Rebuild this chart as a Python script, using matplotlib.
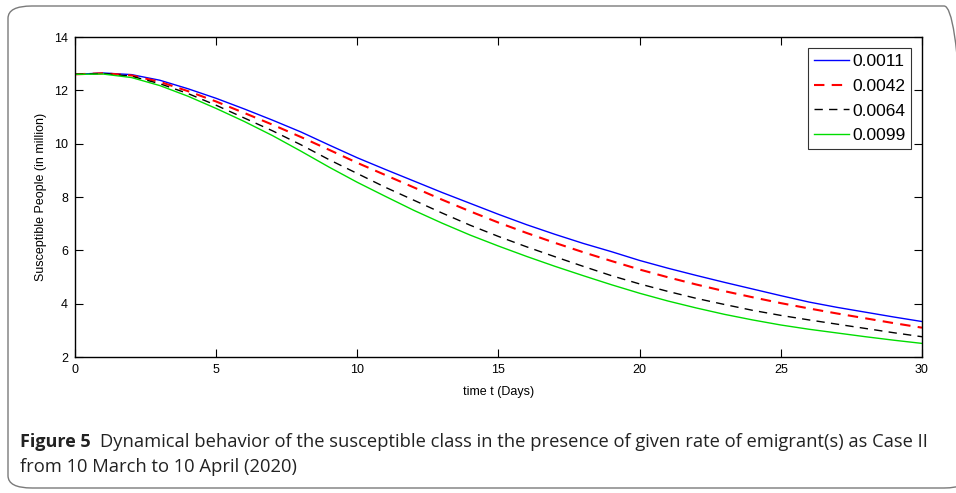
import matplotlib
matplotlib.use("Agg")
from matplotlib import pyplot as plt
from matplotlib.patches import FancyBboxPatch

plt.rcParams['font.family'] = ['Liberation Sans', 'DejaVu Sans']

# days and susceptible population (in million)
days = list(range(0, 31))
s_0011 = [12.60, 12.65, 12.59, 12.38, 12.06, 11.70, 11.30, 10.88, 10.44, 9.95, 9.47,
          9.03, 8.60, 8.17, 7.76, 7.35, 6.96, 6.60, 6.26, 5.95, 5.62,
          5.33, 5.06, 4.80, 4.55, 4.30, 4.06, 3.86, 3.68, 3.50, 3.33]
s_0042 = [12.60, 12.64, 12.56, 12.32, 11.97, 11.58, 11.15, 10.71, 10.25, 9.77, 9.28,
          8.82, 8.36, 7.90, 7.46, 7.04, 6.65, 6.28, 5.93, 5.60, 5.28,
          4.99, 4.72, 4.47, 4.24, 4.02, 3.82, 3.63, 3.45, 3.27, 3.10]
s_0064 = [12.60, 12.63, 12.53, 12.25, 11.88, 11.44, 10.96, 10.48, 9.96, 9.40, 8.88,
          8.36, 7.88, 7.40, 6.94, 6.52, 6.13, 5.76, 5.40, 5.05, 4.74,
          4.46, 4.20, 3.97, 3.75, 3.56, 3.39, 3.23, 3.07, 2.91, 2.76]
s_0099 = [12.60, 12.61, 12.48, 12.18, 11.78, 11.32, 10.83, 10.30, 9.72, 9.12, 8.55,
          8.02, 7.50, 7.02, 6.57, 6.16, 5.77, 5.40, 5.05, 4.71, 4.39,
          4.10, 3.84, 3.60, 3.39, 3.20, 3.04, 2.90, 2.76, 2.63, 2.51]
labels = ["0.0011", "0.0042", "0.0064", "0.0099"]

fig = plt.figure(figsize=(9.56, 4.93), dpi=100)

# rounded frame around figure + caption
frame = FancyBboxPatch((8 / 956, 5 / 493), 960 / 956, 482 / 493,
                       boxstyle="round,pad=0,rounding_size=0.025",
                       transform=fig.transFigure, fill=False,
                       edgecolor="#7a7a7a", linewidth=1.0, clip_on=False)
fig.patches.append(frame)

ax = fig.add_axes([75 / 956, 1 - 357 / 493, (922 - 75) / 956, (357 - 37) / 493])

ax.plot(days, s_0011, color="blue", lw=1.0, label=labels[0])
ax.plot(days, s_0042, color="red", lw=1.5, dashes=(5, 3.5), label=labels[1])
ax.plot(days, s_0064, color="black", lw=1.0, dashes=(6, 4.5), label=labels[2])
ax.plot(days, s_0099, color="#00dd00", lw=1.0, label=labels[3])

ax.set_xlim(0, 30)
ax.set_ylim(2, 14)
ax.set_xticks([0, 5, 10, 15, 20, 25, 30])
ax.set_yticks([2, 4, 6, 8, 10, 12, 14])
ax.tick_params(direction="in", top=True, right=True, length=6, width=0.8,
               labelsize=9, pad=5)
for sp in ax.spines.values():
    sp.set_linewidth(1.0)
ax.set_xlabel("time t (Days)", fontsize=9, labelpad=7)
ax.set_ylabel("Susceptible People (in million)", fontsize=9, labelpad=5)

leg = ax.legend(loc="upper right", bbox_to_anchor=(0.9875, 0.966), fontsize=12.5,
                frameon=True, fancybox=False, edgecolor="black",
                handlelength=2.0, handletextpad=0.2, borderpad=0.35,
                labelspacing=0.55, borderaxespad=0)
leg.get_frame().set_linewidth(0.8)

fig.text(20 / 956, 1 - 442 / 493, "Figure 5", fontsize=13, va="center", ha="left",
         family="Open Sans", weight="bold", color="#222222")
fig.text(100 / 956, 1 - 442 / 493,
         "Dynamical behavior of the susceptible class in the presence of given rate of emigrant(s) as Case II",
         fontsize=13.2, va="center", ha="left", family="Open Sans", color="#222222")
fig.text(20 / 956, 1 - 467 / 493, "from 10 March to 10 April (2020)",
         fontsize=13.2, va="center", ha="left", family="Open Sans", color="#222222")

fig.savefig("out.png", dpi=100)
